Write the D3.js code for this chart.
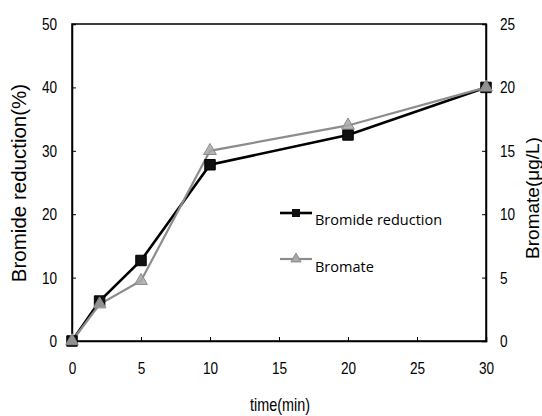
<!DOCTYPE html>
<html>
<head>
<meta charset="utf-8">
<script src="https://cdn.jsdelivr.net/npm/d3@7"></script>
<style>
  html, body { margin: 0; padding: 0; background: #fff; }
  svg { display: block; }
</style>
</head>
<body>
<svg id="chart" width="542" height="416"></svg>
<script>
// Sampling times (min)
const times = [0, 2, 5, 10, 20, 30];
// Bromide reduction (%) — left axis
const bromideReduction = [0, 6.3, 12.7, 27.8, 32.5, 40];
// Bromate (μg/L) — right axis
const bromate = [0, 2.9, 4.75, 15, 17, 20];

const xTicks = [0, 5, 10, 15, 20, 25, 30];
const leftTicks = [0, 10, 20, 30, 40, 50];
const rightTicks = [0, 5, 10, 15, 20, 25];

const margin = { left: 72, right: 56, top: 24, bottom: 75 };
const W = 542, H = 416;

const svg = d3.select("#chart");

const x = d3.scaleLinear().domain([0, 30]).range([margin.left, W - margin.right]);
const yL = d3.scaleLinear().domain([0, 50]).range([H - margin.bottom, margin.top]);
const yR = d3.scaleLinear().domain([0, 25]).range([H - margin.bottom, margin.top]);

// Narrow numeric lettering: regular sans squeezed horizontally
const tickFont = "'Liberation Sans', Arial, sans-serif";
const SQ = 0.8;

// Plot frame
svg.append("rect")
  .attr("x", margin.left).attr("y", margin.top)
  .attr("width", W - margin.right - margin.left)
  .attr("height", H - margin.bottom - margin.top)
  .attr("fill", "none").attr("stroke", "#000").attr("stroke-width", 1.5);

// Axes with inward ticks
const xAxis = d3.axisBottom(x).tickValues(xTicks).tickSize(-4).tickPadding(21);
const lAxis = d3.axisLeft(yL).tickValues(leftTicks).tickSize(-4).tickPadding(15);
const rAxis = d3.axisRight(yR).tickValues(rightTicks).tickSize(-4).tickPadding(14);

function styleAxis(g, side) {
  g.select(".domain").attr("stroke", "#000").attr("stroke-width", 1.5);
  g.selectAll(".tick line").attr("stroke", "#000").attr("stroke-width", 1);
  const t = g.selectAll(".tick text").attr("fill", "#000")
    .style("font-family", tickFont).style("font-size", "17px");
  if (side === "left") t.attr("x", -15 / SQ);
  if (side === "right") t.attr("x", 14 / SQ);
  t.attr("transform", `scale(${SQ},1)`);
}

svg.append("g").attr("transform", `translate(0,${H - margin.bottom})`).call(xAxis).call(styleAxis, "bottom");
svg.append("g").attr("transform", `translate(${margin.left},0)`).call(lAxis).call(styleAxis, "left");
svg.append("g").attr("transform", `translate(${W - margin.right},0)`).call(rAxis).call(styleAxis, "right");

// Axis titles
svg.append("text")
  .attr("transform", `translate(280,411) scale(${SQ},1)`)
  .attr("text-anchor", "middle")
  .style("font-family", tickFont).style("font-size", "18px")
  .text("time(min)");

svg.append("text")
  .attr("transform", "translate(26,183) rotate(-90)")
  .attr("text-anchor", "middle")
  .style("font-family", "'Liberation Sans', Arial, sans-serif").style("font-size", "20.5px")
  .text("Bromide reduction(%)");

svg.append("text")
  .attr("transform", "translate(539,198) rotate(-90)")
  .attr("text-anchor", "middle")
  .style("font-family", "'Liberation Sans', Arial, sans-serif").style("font-size", "19px")
  .text("Bromate(μg/L)");

// Series
const bromData = times.map((t, i) => ({ t, v: bromideReduction[i] }));
const bromateData = times.map((t, i) => ({ t, v: bromate[i] }));

const lineL = d3.line().x(d => x(d.t)).y(d => yL(d.v));
const lineR = d3.line().x(d => x(d.t)).y(d => yR(d.v));

svg.append("path").datum(bromData)
  .attr("d", lineL).attr("fill", "none")
  .attr("stroke", "#000").attr("stroke-width", 2.6);

svg.append("path").datum(bromateData)
  .attr("d", lineR).attr("fill", "none")
  .attr("stroke", "#8c8c8c").attr("stroke-width", 2.2);

const sq = d3.symbol().type(d3.symbolSquare).size(110);
const tri = d3.symbol().type(d3.symbolTriangle).size(70);

svg.append("g").selectAll("path").data(bromData).join("path")
  .attr("transform", d => `translate(${x(d.t)},${yL(d.v)})`)
  .attr("d", sq).attr("fill", "#111").attr("stroke", "#000");

svg.append("g").selectAll("path").data(bromateData).join("path")
  .attr("transform", d => `translate(${x(d.t)},${yR(d.v)})`)
  .attr("d", tri).attr("fill", "#a8a8a8").attr("stroke", "#8a8a8a")
  .attr("fill-opacity", 0.85);

// Legend
const legFont = "'Open Sans', 'Noto Sans', sans-serif";
const leg = svg.append("g");
leg.append("line").attr("x1", 280).attr("x2", 312).attr("y1", 213).attr("y2", 213)
  .attr("stroke", "#000").attr("stroke-width", 2.6);
leg.append("path").attr("transform", "translate(296,213)").attr("d", sq.size(64)())
  .attr("fill", "#111");
leg.append("text").attr("x", 315).attr("y", 225)
  .style("font-family", legFont).style("font-size", "14.5px").text("Bromide reduction");

leg.append("line").attr("x1", 280).attr("x2", 312).attr("y1", 259).attr("y2", 259)
  .attr("stroke", "#8c8c8c").attr("stroke-width", 2.2);
leg.append("path").attr("transform", "translate(296,259)").attr("d", tri.size(45)())
  .attr("fill", "#a8a8a8").attr("stroke", "#8a8a8a");
leg.append("text").attr("x", 315).attr("y", 272)
  .style("font-family", legFont).style("font-size", "14.5px").text("Bromate");
</script>
</body>
</html>
